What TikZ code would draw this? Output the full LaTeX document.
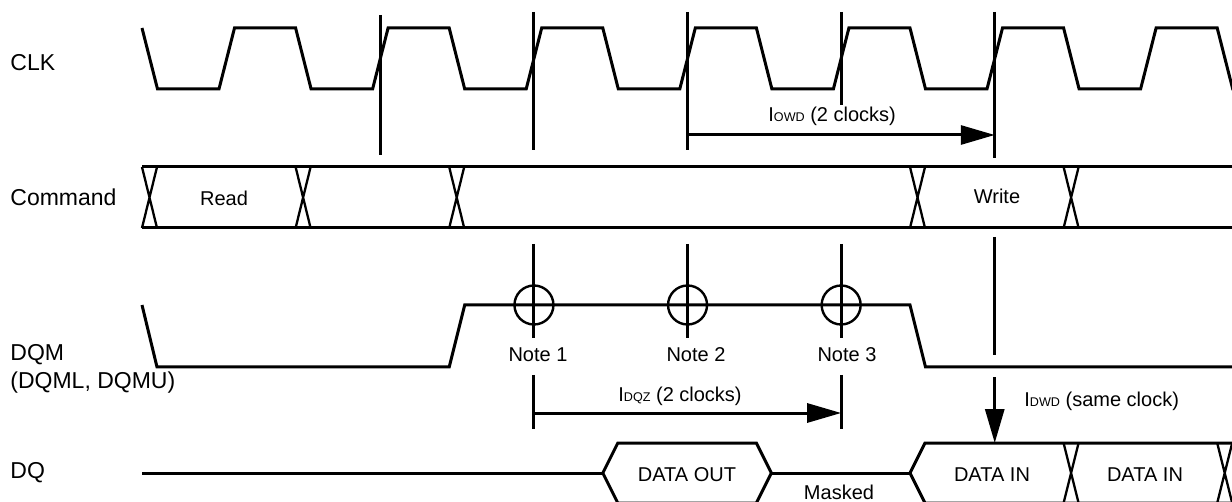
\documentclass[tikz,border=0pt]{standalone}
\usepackage{fontspec}
\setmainfont{Liberation Sans}
\usepackage{tikz}
\usetikzlibrary{arrows.meta}
\tikzstyle{wave}=[draw,line width=1.5pt,line join=miter]
\tikzstyle{cross}=[draw,line width=1.15pt]
\tikzstyle{clkline}=[draw,line width=1.5pt]
\tikzstyle{ring}=[draw,line width=1.2pt]
\tikzstyle{timing}=[draw,line width=1.5pt,-{Triangle[length=17pt,width=9.5pt]}]
\tikzstyle{signame}=[font=\fontsize{11.5}{14}\selectfont,anchor=base west,inner sep=0pt]
\tikzstyle{weight}=[font=\fontsize{10}{12}\selectfont,anchor=base,inner sep=0pt]
\tikzset{param/.style={weight,anchor=base west}}
\newcommand{\subtxt}[1]{{\fontsize{6.3}{7}\selectfont #1}}

\begin{document}
\begin{tikzpicture}[x=0.5pt,y=-0.5pt]

 \useasboundingbox (0,0) rectangle (1232,502);
 \clip (0,0) rectangle (1232,502);

 \def\P{153.6};
 \def\xo{142};

 %signal names
 \node[signame] (clk) at (10,71) {CLK};
 \node[signame] (cmd) at (10,206) {Command};
 \node[signame] (dqm) at (10,360) {DQM};
 \node[signame] (dqmsub) at (10,388) {(DQML, DQMU)};
 \node[signame] (dq) at (10,478) {DQ};

 %CLK
 \draw[wave] (\xo,28) \foreach \k in {0,...,7} { -- ++(15.5,61) -- ++(61.5,0) -- ++(15.5,-61) -- ++(61.1,0) };

 \foreach \k in {1,...,5}
   \coordinate (r\k) at (\xo+84.75+\k*\P,0);

 \foreach \k/\top/\bot in {1/15/155, 2/12/150, 3/12/150, 4/12/105, 5/12/158}
   \path[clkline] (r\k |- 0,\top) -- (r\k |- 0,\bot);

 %Command
 \draw[wave] (\xo,167) -- (1232,167);
 \draw[wave] (\xo,228) -- (1232,228);
 \foreach \k in {0,1,2,5,6}
   \path[cross] (\xo+\k*\P,167) -- ++(15,61) (\xo+\k*\P+15,167) -- ++(-15,61);

 \node[weight] (rd) at (224,206) {Read};
 \node[weight] (wr) at (997,204) {Write};

 %DQM
 \draw[wave] (\xo,305) -- ++(15,62) -- (\xo+2*\P,367) -- ++(15.5,-62)
   -- (\xo+5*\P,305) -- ++(15.5,62) -- (1232,367);

 \foreach \k in {2,3,4}
   \path[ring] (r\k |- 0,305) circle[radius=9.75pt];
 \foreach \k/\top/\bot in {2/244/338, 3/244/338, 4/244/338, 5/237/355}
   \path[clkline] (r\k |- 0,\top) -- (r\k |- 0,\bot);

 \foreach \x/\name/\label in {538/n1/Note 1, 696/n2/Note 2, 847/n3/Note 3}
   \node[weight] (\name) at (\x,362) {\label};

 %tOWD
 \coordinate (owdA) at (r3 |- 0,135);
 \coordinate (owdB) at (r5 |- 0,135);
 \path[timing] (owdA) -- (owdB);
 \node[param] (owd) at (768,122) {I\subtxt{OWD} (2 clocks)};

 %tDQZ
 \foreach \k in {2,4}
   \path[clkline] (r\k |- 0,375) -- (r\k |- 0,429);
 \coordinate (dqzA) at (r2 |- 0,413);
 \coordinate (dqzB) at (r4 |- 0,413);
 \path[timing] (dqzA) -- (dqzB);
 \node[param] (dqz) at (618,401) {I\subtxt{DQZ} (2 clocks)};

 %tDWD
 \coordinate (dwdA) at (r5 |- 0,377);
 \coordinate (dwdB) at (r5 |- 0,443);
 \path[timing] (dwdA) -- (dwdB);
 \node[param] (dwd) at (1024,407) {I\subtxt{DWD} (same clock)};

 %DQ
 \draw[wave] (\xo,473) -- (\xo+3*\P,473);
 \draw[wave] (\xo+3*\P,473) -- ++(15,-30) -- (\xo+4*\P,443) -- ++(15,30)
   -- ++(-15,30) -- (\xo+3*\P+15,503) -- cycle;
 \draw[wave] (\xo+4*\P+15,473) -- (\xo+5*\P,473);
 \draw[wave] (1240,443) -- (\xo+5*\P+15,443) -- ++(-15,30) -- ++(15,30) -- (1240,503);
 \foreach \k in {6,7}
   \path[cross] (\xo+\k*\P,443) -- ++(15,60) (\xo+\k*\P+15,443) -- ++(-15,60);

 \node[weight] (dout) at (687,481) {DATA OUT};
 \node[weight] (mask) at (839,499) {Masked};
 \node[weight] (din1) at (992,481) {DATA IN};
 \node[weight] (din2) at (1145,481) {DATA IN};

\end{tikzpicture}
\end{document}
